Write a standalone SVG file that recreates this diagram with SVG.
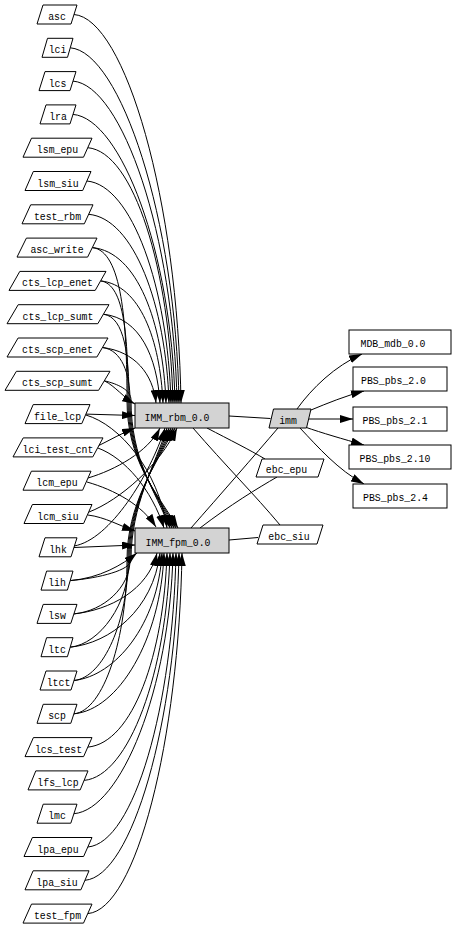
<svg xmlns="http://www.w3.org/2000/svg" width="456" height="929" viewBox="0 0 456 929">
<style>
.n polygon,.n rect{fill:#fff;stroke:#000;stroke-width:1}
.n .g{fill:#d3d3d3}
text{font-family:"Liberation Mono","DejaVu Sans Mono",monospace;font-size:11.5px;text-anchor:middle;fill:#000}
.e path{fill:none;stroke:#000;stroke-width:1}
.e path.a{marker-end:url(#ah)}
</style>
<defs>
<marker id="ah" markerUnits="userSpaceOnUse" markerWidth="13" markerHeight="8" refX="13" refY="4" orient="auto"><path d="M0,0 L13,4 L0,8 z" fill="#000"/></marker>
</defs>
<rect width="456" height="929" fill="#fff"/>
<g id="edges" class="e">
<path class="a" d="M74,14.5 C125,18.5 178,201 181,403"/>
<path class="a" d="M70.3,47.8 C120,51.8 176,218 179,403"/>
<path class="a" d="M73,81.1 C122,85.1 174,235.6 177,403"/>
<path class="a" d="M73,114.4 C121,118.4 172,253 175,403"/>
<path class="a" d="M87.8,147.7 C134,151.7 170,270.2 173,403"/>
<path class="a" d="M86.8,181 C132,185 168,287.6 171,403"/>
<path class="a" d="M88.7,214.3 C133.7,218.3 166,304.9 169,403"/>
<path class="a" d="M92.3,247.6 C137.3,251.6 163,322.2 166,403"/>
<path class="a" d="M100.6,280.9 C140,284.9 160,339.5 163,403"/>
<path class="a" d="M103.4,314.2 C140,318.2 157,356.8 160,403"/>
<path class="a" d="M102.5,347.5 C135,351.5 153,374 156,403"/>
<path class="a" d="M104.3,380.8 C115,386 124,398 135,404"/>
<path class="a" d="M92.3,247.6 C122,250.6 127,323.8 127,400 C127,460 155,490 178,528"/>
<path class="a" d="M100.6,280.9 C125,284 128,340 128,400 C128,460 155,490 176,528"/>
<path class="a" d="M103.4,314.2 C125,317 129,357 129,400 C129,460 155,490 174,528"/>
<path class="a" d="M102.5,347.5 C122,350 130,374 130,400 C130,460 155,490 172,528"/>
<path class="a" d="M104.3,380.8 C118,384 131,390 131,400 C131,460 155,490 170,528"/>
<path class="a" d="M85.9,414.1 L135,415.5"/>
<path class="a" d="M85.9,415 C120,425 158,470 167,528"/>
<path class="a" d="M97.9,446 C110,440 122,433 135,428"/>
<path class="a" d="M97.9,448 C125,458 152,490 164,528"/>
<path class="a" d="M88,478 C115,470 148,452 160,428"/>
<path class="a" d="M87,482 C115,490 142,505 156,527"/>
<path class="a" d="M89,512 C120,500 160,465 177,428"/>
<path class="a" d="M87.8,515 C105,517 120,526 135,531"/>
<path class="a" d="M74,546 C110,540 150,475 165,428"/>
<path class="a" d="M74,547.5 L135,545"/>
<path class="a" d="M70.2,580.6 C100,578 131,570 131,560 C131,505 155,465 167,428"/>
<path class="a" d="M70.2,580.6 C100,578 122,565 137,553"/>
<path class="a" d="M73.9,613.9 C104,611 130,587 130,560 C130,505 155,465 169,428"/>
<path class="a" d="M73.9,613.9 C110,610 148,590 157,553"/>
<path class="a" d="M70.2,647.2 C100,644 129,603.6 129,560 C129,505 155,465 171,428"/>
<path class="a" d="M70.2,647.2 C110,643 153,610 160,553"/>
<path class="a" d="M74,680.5 C104,677.5 128,620 128,560 C128,505 155,465 173,428"/>
<path class="a" d="M74,680.5 C115,676 158,625 162,553"/>
<path class="a" d="M73.9,713.8 C104,711 127,637 127,560 C127,505 155,465 175,428"/>
<path class="a" d="M73.9,713.8 C118,710 161,640 164,553"/>
<path class="a" d="M87.8,747.1 C132.8,743.1 164,653.9 167,553"/>
<path class="a" d="M84.1,780.4 C129.1,776.4 167,671.2 170,553"/>
<path class="a" d="M73.9,813.7 C121,809.7 170,688.6 173,553"/>
<path class="a" d="M87.8,847 C134,843 173,705.9 176,553"/>
<path class="a" d="M85,880.3 C132,876.3 176,723.2 179,553"/>
<path class="a" d="M87.8,913.6 C136,909.6 179,740.5 182,553"/>
<path d="M229,416 L270.5,418.5"/>
<path d="M207,428 C230,440 250,450 265,459"/>
<path d="M193,428 C225,465 255,495 280,525"/>
<path d="M191,528 C220,495 255,455 278,428"/>
<path d="M200,528 C230,505 258,488 277,477"/>
<path d="M229,540 L258,537.5"/>
<path class="a" d="M297,409 C312,388 335,366 362,354"/>
<path class="a" d="M311,410 C328,403 345,396 364,391"/>
<path class="a" d="M309,419 L353,419"/>
<path class="a" d="M305,427 C322,433 343,439 364,445"/>
<path class="a" d="M300,428 C318,447 338,470 364,484"/>
</g>
<g id="n-asc" class="n"><polygon points="43,5 77,5 71,24 37,24"/><text x="57" y="20" textLength="17.7" lengthAdjust="spacingAndGlyphs">asc</text></g>
<g id="n-lci" class="n"><polygon points="47.5,38.3 73,38.3 67.5,57.3 42,57.3"/><text x="57.5" y="53.3" textLength="17.7" lengthAdjust="spacingAndGlyphs">lci</text></g>
<g id="n-lcs" class="n"><polygon points="45,71.6 76,71.6 70,90.6 39,90.6"/><text x="57.5" y="86.6" textLength="17.7" lengthAdjust="spacingAndGlyphs">lcs</text></g>
<g id="n-lra" class="n"><polygon points="46,104.9 76,104.9 70,123.9 40,123.9"/><text x="58" y="119.9" textLength="17.7" lengthAdjust="spacingAndGlyphs">lra</text></g>
<g id="n-lsm_epu" class="n"><polygon points="31.5,138.2 92,138.2 83.5,157.2 23,157.2"/><text x="57.5" y="153.2" textLength="41.3" lengthAdjust="spacingAndGlyphs">lsm_epu</text></g>
<g id="n-lsm_siu" class="n"><polygon points="33.3,171.5 91,171.5 82.7,190.5 25,190.5"/><text x="58" y="186.5" textLength="41.3" lengthAdjust="spacingAndGlyphs">lsm_siu</text></g>
<g id="n-test_rbm" class="n"><polygon points="30.7,204.8 93,204.8 84.3,223.8 22,223.8"/><text x="57.5" y="219.8" textLength="47.2" lengthAdjust="spacingAndGlyphs">test_rbm</text></g>
<g id="n-asc_write" class="n"><polygon points="26.4,238.1 97,238.1 87.6,257.1 17,257.1"/><text x="57" y="253.1" textLength="53.1" lengthAdjust="spacingAndGlyphs">asc_write</text></g>
<g id="n-cts_lcp_enet" class="n"><polygon points="19.8,271.4 106,271.4 95.2,290.4 9,290.4"/><text x="57.5" y="286.4" textLength="70.8" lengthAdjust="spacingAndGlyphs">cts_lcp_enet</text></g>
<g id="n-cts_lcp_sumt" class="n"><polygon points="18.2,304.7 109,304.7 97.8,323.7 7,323.7"/><text x="58" y="319.7" textLength="70.8" lengthAdjust="spacingAndGlyphs">cts_lcp_sumt</text></g>
<g id="n-cts_scp_enet" class="n"><polygon points="18.1,338 108,338 96.9,357 7,357"/><text x="57.5" y="353" textLength="70.8" lengthAdjust="spacingAndGlyphs">cts_scp_enet</text></g>
<g id="n-cts_scp_sumt" class="n"><polygon points="16.4,371.3 110,371.3 98.6,390.3 5,390.3"/><text x="57.5" y="386.3" textLength="70.8" lengthAdjust="spacingAndGlyphs">cts_scp_sumt</text></g>
<g id="n-file_lcp" class="n"><polygon points="33.2,404.6 90,404.6 81.8,423.6 25,423.6"/><text x="57.5" y="419.6" textLength="47.2" lengthAdjust="spacingAndGlyphs">file_lcp</text></g>
<g id="n-lci_test_cnt" class="n"><polygon points="23.2,437.9 103,437.9 92.8,456.9 13,456.9"/><text x="58" y="452.9" textLength="70.8" lengthAdjust="spacingAndGlyphs">lci_test_cnt</text></g>
<g id="n-lcm_epu" class="n"><polygon points="31.4,471.2 91,471.2 82.6,490.2 23,490.2"/><text x="57" y="486.2" textLength="41.3" lengthAdjust="spacingAndGlyphs">lcm_epu</text></g>
<g id="n-lcm_siu" class="n"><polygon points="32.4,504.5 92,504.5 83.6,523.5 24,523.5"/><text x="58" y="519.5" textLength="41.3" lengthAdjust="spacingAndGlyphs">lcm_siu</text></g>
<g id="n-lhk" class="n"><polygon points="45,537.8 77,537.8 71,556.8 39,556.8"/><text x="58" y="552.8" textLength="17.7" lengthAdjust="spacingAndGlyphs">lhk</text></g>
<g id="n-lih" class="n"><polygon points="46.6,571.1 73,571.1 67.4,590.1 41,590.1"/><text x="57" y="586.1" textLength="17.7" lengthAdjust="spacingAndGlyphs">lih</text></g>
<g id="n-lsw" class="n"><polygon points="43.2,604.4 77,604.4 70.8,623.4 37,623.4"/><text x="57" y="619.4" textLength="17.7" lengthAdjust="spacingAndGlyphs">lsw</text></g>
<g id="n-ltc" class="n"><polygon points="46.6,637.7 73,637.7 67.4,656.7 41,656.7"/><text x="57" y="652.7" textLength="17.7" lengthAdjust="spacingAndGlyphs">ltc</text></g>
<g id="n-ltct" class="n"><polygon points="46,671 77,671 71,690 40,690"/><text x="58.5" y="686" textLength="23.6" lengthAdjust="spacingAndGlyphs">ltct</text></g>
<g id="n-scp" class="n"><polygon points="43.2,704.3 77,704.3 70.8,723.3 37,723.3"/><text x="57" y="719.3" textLength="17.7" lengthAdjust="spacingAndGlyphs">scp</text></g>
<g id="n-lcs_test" class="n"><polygon points="33.4,737.6 92,737.6 83.6,756.6 25,756.6"/><text x="58.5" y="752.6" textLength="47.2" lengthAdjust="spacingAndGlyphs">lcs_test</text></g>
<g id="n-lfs_lcp" class="n"><polygon points="35.8,770.9 88,770.9 80.2,789.9 28,789.9"/><text x="58" y="785.9" textLength="41.3" lengthAdjust="spacingAndGlyphs">lfs_lcp</text></g>
<g id="n-lmc" class="n"><polygon points="43.2,804.2 77,804.2 70.8,823.2 37,823.2"/><text x="57" y="819.2" textLength="17.7" lengthAdjust="spacingAndGlyphs">lmc</text></g>
<g id="n-lpa_epu" class="n"><polygon points="32.4,837.5 92,837.5 83.6,856.5 24,856.5"/><text x="58" y="852.5" textLength="41.3" lengthAdjust="spacingAndGlyphs">lpa_epu</text></g>
<g id="n-lpa_siu" class="n"><polygon points="33.1,870.8 89,870.8 80.9,889.8 25,889.8"/><text x="57" y="885.8" textLength="41.3" lengthAdjust="spacingAndGlyphs">lpa_siu</text></g>
<g id="n-test_fpm" class="n"><polygon points="31.5,904.1 92,904.1 83.5,923.1 23,923.1"/><text x="57.5" y="919.1" textLength="47.2" lengthAdjust="spacingAndGlyphs">test_fpm</text></g>
<g id="n-IMM_rbm_0.0" class="n"><rect class="g" x="135" y="403" width="94" height="25"/><text x="177" y="421" textLength="64.9" lengthAdjust="spacingAndGlyphs">IMM_rbm_0.0</text></g>
<g id="n-IMM_fpm_0.0" class="n"><rect class="g" x="135" y="528" width="94" height="25"/><text x="178" y="546" textLength="64.9" lengthAdjust="spacingAndGlyphs">IMM_fpm_0.0</text></g>
<g id="n-imm" class="n"><polygon class="g" points="273.5,409 311,409 306.5,428 269,428"/><text x="288" y="424" textLength="17.7" lengthAdjust="spacingAndGlyphs">imm</text></g>
<g id="n-ebc_epu" class="n"><polygon points="262,459 324,459 318,477 256,477"/><text x="286.5" y="473" textLength="41.3" lengthAdjust="spacingAndGlyphs">ebc_epu</text></g>
<g id="n-ebc_siu" class="n"><polygon points="263,525 323,525 317,544 257,544"/><text x="289" y="540" textLength="41.3" lengthAdjust="spacingAndGlyphs">ebc_siu</text></g>
<g id="n-MDB_mdb_0.0" class="n"><rect x="349" y="330" width="102" height="24"/><text x="393" y="347" textLength="64.9" lengthAdjust="spacingAndGlyphs">MDB_mdb_0.0</text></g>
<g id="n-PBS_pbs_2.0" class="n"><rect x="353" y="367" width="94" height="24"/><text x="393.5" y="384" textLength="64.9" lengthAdjust="spacingAndGlyphs">PBS_pbs_2.0</text></g>
<g id="n-PBS_pbs_2.1" class="n"><rect x="353" y="407" width="94" height="24"/><text x="395" y="424" textLength="64.9" lengthAdjust="spacingAndGlyphs">PBS_pbs_2.1</text></g>
<g id="n-PBS_pbs_2.10" class="n"><rect x="349" y="445" width="102" height="24"/><text x="395" y="462" textLength="70.8" lengthAdjust="spacingAndGlyphs">PBS_pbs_2.10</text></g>
<g id="n-PBS_pbs_2.4" class="n"><rect x="353" y="484" width="94" height="24"/><text x="395.5" y="501" textLength="64.9" lengthAdjust="spacingAndGlyphs">PBS_pbs_2.4</text></g>
</svg>
